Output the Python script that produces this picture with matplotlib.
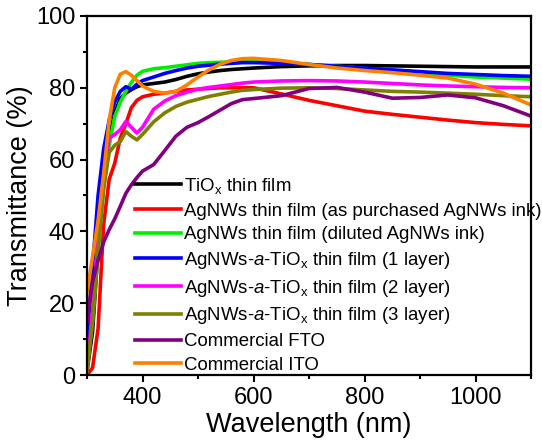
import numpy as np
import matplotlib
matplotlib.use("Agg")
import matplotlib.pyplot as plt
from matplotlib.ticker import MultipleLocator

plt.rcParams["font.family"] = ["Liberation Sans", "DejaVu Sans"]
plt.rcParams["mathtext.fontset"] = "custom"
plt.rcParams["mathtext.rm"] = "Liberation Sans"
plt.rcParams["mathtext.it"] = "Liberation Sans:italic"

# Comprimento de onda (nm)
wl = [300, 310, 320, 330, 340, 350, 360, 370, 380, 390, 400,
      420, 440, 460, 480, 500, 520, 540, 560, 580, 600,
      650, 700, 750, 800, 850, 900, 950, 1000, 1050, 1100]

tiox = [1, 12, 35, 55, 66, 73, 77, 78.5, 79.5, 80.3, 80.8,
        81.2, 81.6, 82.3, 83.2, 83.9, 84.4, 84.8, 85.1, 85.3, 85.5,
        85.9, 86.1, 86.2, 86.2, 86.1, 86, 85.9, 85.8, 85.8, 85.8]
agnw_purch = [0, 2, 13, 42, 54.5, 59, 66, 70, 74.5, 76.5, 77.5,
              78.2, 78.5, 79, 79.4, 79.6, 79.8, 80, 80, 80, 80,
              78.3, 76.5, 75, 73.5, 72.6, 71.8, 71, 70.3, 69.8, 69.4]
agnw_dil = [2, 15, 35, 52, 64, 72, 76, 79, 81.5, 83.5, 84.6,
            85.3, 85.6, 86, 86.4, 86.8, 87, 87.1, 87.2, 87.3, 87.3,
            87, 86.5, 86, 85.4, 84.7, 84, 83.5, 83, 82.7, 82.4]
layer1 = [10, 30, 50, 63, 71, 76, 79, 80.3, 79.6, 81, 82,
          83, 84, 84.8, 85.5, 86, 86.3, 86.6, 86.8, 87, 87,
          86.8, 86.5, 86, 85.5, 85, 84.5, 84, 83.7, 83.4, 83.2]
layer2 = [2, 18, 38, 55, 66, 67, 68.3, 70.6, 69, 67.4, 69,
          74, 76.3, 77.8, 78.8, 79.6, 80.1, 80.5, 80.9, 81.3, 81.6,
          81.9, 82, 81.9, 81.6, 81.2, 80.8, 80.5, 80.3, 80.1, 80]
layer3 = [1, 15, 35, 52, 62, 64, 65, 67.8, 66.5, 65.5, 67,
          70.5, 73, 74.8, 76, 76.8, 77.6, 78.2, 78.8, 79.3, 79.5,
          79.9, 80, 79.8, 79.4, 79, 78.8, 78.5, 78.2, 77.8, 77.5]
fto = [15, 26, 32, 37, 40.5, 43.5, 47, 50.6, 53, 55, 56.8,
       58.6, 62.5, 66.5, 69, 70.3, 72, 73.8, 75.6, 76.7, 77,
       77.8, 79.8, 80.1, 78.8, 77.1, 77.3, 78, 77.2, 75, 72.1]
ito = [22.8, 33, 43, 56, 71, 80, 83.8, 84.5, 83.5, 82, 80.5,
       79, 78.5, 79, 80.8, 83, 85, 86.6, 87.6, 88.1, 88.2,
       87.6, 86.5, 85.5, 84.8, 84.2, 83.5, 82.7, 81, 78.5, 75.2]

series = [tiox, agnw_purch, agnw_dil, layer1, layer2, layer3, fto, ito]
labels = [
    r"TiO$_\mathrm{x}$ thin film",
    "AgNWs thin film (as purchased AgNWs ink)",
    "AgNWs thin film (diluted AgNWs ink)",
    r"AgNWs-$a$-TiO$_\mathrm{x}$ thin film (1 layer)",
    r"AgNWs-$a$-TiO$_\mathrm{x}$ thin film (2 layer)",
    r"AgNWs-$a$-TiO$_\mathrm{x}$ thin film (3 layer)",
    "Commercial FTO",
    "Commercial ITO",
]
cores = ["#000000", "#ff0000", "#00ee00", "#0000ff",
         "#ff00ff", "#808000", "#800080", "#ff8000"]

fig = plt.figure(figsize=(5.42, 4.44), dpi=100)
ax = fig.add_axes([0.1605, 0.1554, 0.8195, 0.8086])

for y, lab, c in zip(series, labels, cores):
    ax.plot(wl, y, color=c, lw=2.6, label=lab)

ax.set_xlim(300, 1100)
ax.set_ylim(0, 100)
ax.xaxis.set_major_locator(MultipleLocator(200))
ax.xaxis.set_minor_locator(MultipleLocator(100))
ax.yaxis.set_major_locator(MultipleLocator(20))
ax.yaxis.set_minor_locator(MultipleLocator(10))
ax.tick_params(which="both", direction="out", width=1.5, labelsize=17,
               top=False, right=False)
ax.tick_params(which="major", length=5)
ax.tick_params(which="minor", length=3)
for s in ax.spines.values():
    s.set_linewidth(1.6)

ax.set_xlabel("Wavelength (nm)", fontsize=19.5, labelpad=2)
ax.set_ylabel("Transmittance (%)", fontsize=19.5, labelpad=2)

ax.legend(loc="upper left", bbox_to_anchor=(0.249, 0.604),
          bbox_transform=fig.transFigure, frameon=False, fontsize=13.4,
          handlelength=2.5, handletextpad=0.15, labelspacing=0.36,
          borderpad=0, borderaxespad=0)

fig.savefig("out.png", dpi=100)
